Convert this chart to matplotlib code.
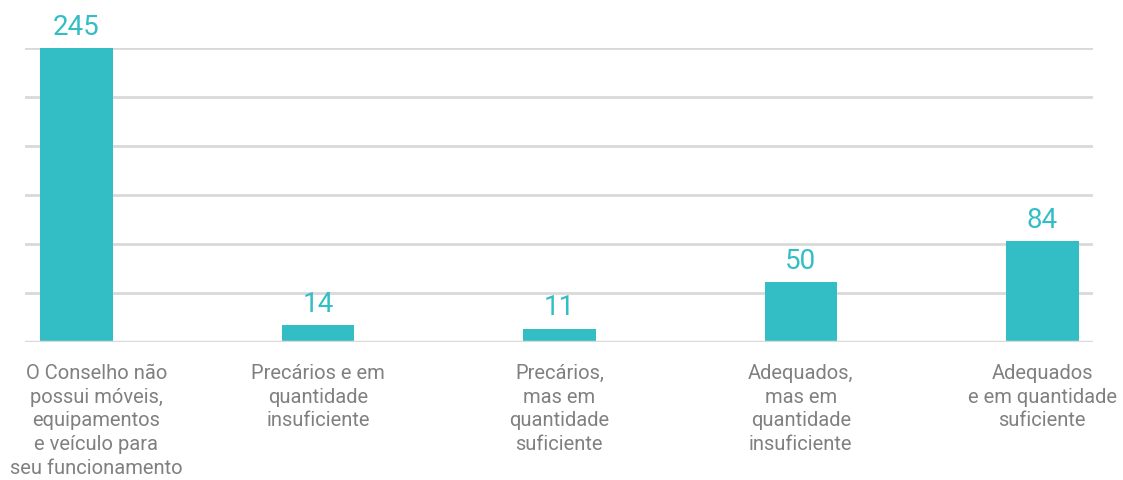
import numpy as np
import matplotlib.pyplot as plt
import matplotlib.transforms as mtransforms

plt.rcParams['font.family'] = ['Roboto', 'DejaVu Sans']

categories = [
    'O Conselho não\npossui móveis,\nequipamentos\ne veículo para\nseu funcionamento',
    'Precários e em\nquantidade\ninsuficiente',
    'Precários,\nmas em\nquantidade\nsuficiente',
    'Adequados,\nmas em\nquantidade\ninsuficiente',
    'Adequados\ne em quantidade\nsuficiente',
]
values = [245, 14, 11, 50, 84]

teal = '#33BEC6'
grey_text = '#808080'
grid_col = '#D9D9D9'

fig = plt.figure(figsize=(11.23, 4.81), dpi=100)
ax = fig.add_axes([25 / 1123, 138 / 481, 1068 / 1123, 294 / 481])

x = np.arange(len(values))
ax.bar(x, values, width=0.30, color=teal, zorder=2)

ax.set_xlim(-0.213, len(values) - 1 + 0.21)
ax.set_ylim(0, max(values))
ax.set_yticks(np.linspace(0, max(values), 7))
ax.yaxis.grid(True, color=grid_col, linewidth=2, zorder=0)
ax.set_axisbelow(True)
ax.axhline(0, color=grid_col, linewidth=2.5, zorder=3)  # baseline shows under the bars
ax.tick_params(axis='y', length=0, labelleft=False)
for s in ax.spines.values():
    s.set_visible(False)

# value labels on top of bars
for xi, v in zip(x, values):
    ax.annotate(str(v), (xi, v), xytext=(0, 6), textcoords='offset points',
                ha='center', va='bottom', fontsize=20, color=teal,
                annotation_clip=False)

ax.set_xticks(x)
ax.set_xticklabels(categories, fontsize=14.5, color=grey_text,
                   linespacing=1.32, ha='center')
ax.tick_params(axis='x', length=0, pad=15)

# first label sits a bit to the right in the original
lbl0 = ax.get_xticklabels()[0]
lbl0.set_transform(lbl0.get_transform() +
                   mtransforms.ScaledTranslation(20 / 100, 0, fig.dpi_scale_trans))

fig.savefig('out.png', dpi=100)
